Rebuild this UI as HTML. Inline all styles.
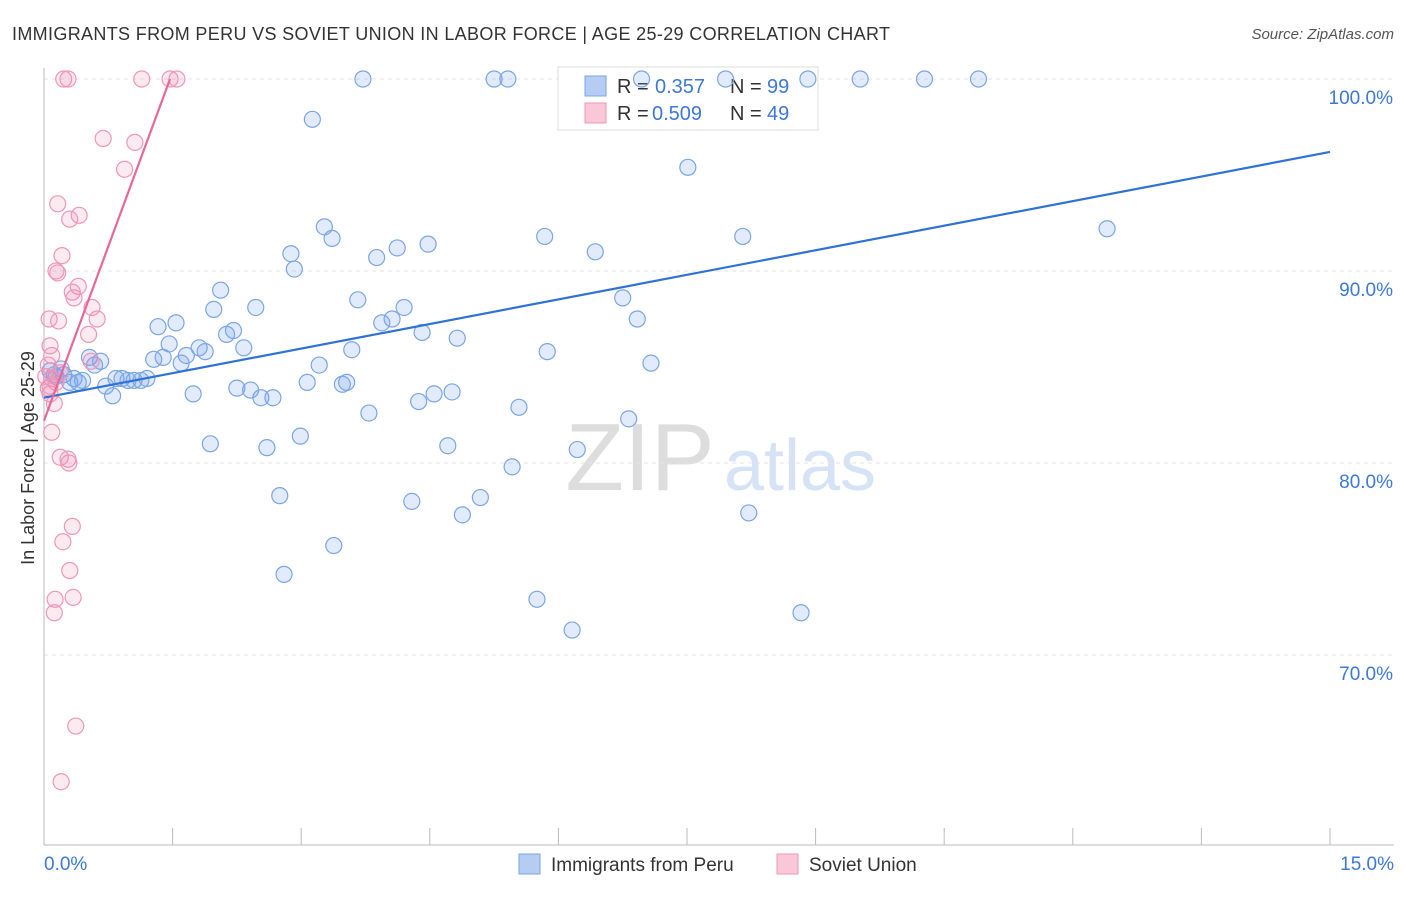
<!DOCTYPE html>
<html><head><meta charset="utf-8"><style>
body{margin:0;background:#fff;font-family:"Liberation Sans",sans-serif;}
svg text{font-family:"Liberation Sans",sans-serif;}
</style></head><body>
<svg id="chart" width="1406" height="892" xmlns="http://www.w3.org/2000/svg">
<text x="12" y="40" font-size="18" fill="#333" textLength="878">IMMIGRANTS FROM PERU VS SOVIET UNION IN LABOR FORCE | AGE 25-29 CORRELATION CHART</text>
<text x="1394" y="39" font-size="15" fill="#555" font-style="italic" text-anchor="end">Source: ZipAtlas.com</text>
<text x="640" y="490" font-size="96" fill="#ddd" font-family="Liberation Serif" text-anchor="middle">ZIP</text>
<text x="800" y="490" font-size="72" fill="#d6e2f5" text-anchor="middle">atlas</text>
<g id="grid"></g>
<g id="axes"></g>
<g>
<rect x="558" y="67" width="260" height="63" fill="#fff" stroke="#ddd"/>
<rect x="585" y="76" width="21" height="20" fill="#b5cdf3" stroke="#7aa5e6"/>
<rect x="585" y="103" width="21" height="20" fill="#f9c7d7" stroke="#ef96b7"/>
<text x="617" y="93" font-size="20" fill="#333">R = </text><text x="655" y="93" font-size="20" fill="#3b78d8">0.357</text>
<text x="730" y="93" font-size="20" fill="#333">N = </text><text x="767" y="93" font-size="20" fill="#3b78d8">99</text>
<text x="617" y="120" font-size="20" fill="#333">R = </text><text x="652" y="120" font-size="20" fill="#3b78d8">0.509</text>
<text x="730" y="120" font-size="20" fill="#333">N = </text><text x="767" y="120" font-size="20" fill="#3b78d8">49</text>
</g>
<g id="pts"></g>
<text transform="translate(34,458) rotate(-90)" font-size="18" fill="#333" text-anchor="middle">In Labor Force | Age 25-29</text>
<g>
<rect x="519" y="854" width="21" height="20" fill="#b5cdf3" stroke="#7aa5e6"/>
<text x="551" y="871" font-size="19" fill="#333">Immigrants from Peru</text>
<rect x="777" y="854" width="21" height="20" fill="#f9c7d7" stroke="#ef96b7"/>
<text x="809" y="871" font-size="19" fill="#333">Soviet Union</text>
</g>
</svg>
<script>
const yTicks=[100,90,80,70];
const xTickLabels=["0.0%","15.0%"];
const peruTrend=[83.4,96.2];
const peruX=[3.72,5.25,5.41,6.97,7.95,8.91,9.52,10.27,10.9,3.13,7.51,12.4,3.27,3.36,5.84,8.15,4.12,4.48,2.88,2.92,3.88,6.43,2.06,2.47,1.98,3.66,4.2,4.06,3.94,6.75,6.92,1.33,1.54,2.21,2.13,4.41,4.82,1.46,1.81,1.88,2.33,3.59,5.87,1.66,1.28,1.39,1.6,0.53,0.66,0.59,3.21,7.08,0.07,0.14,0.23,0.3,0.4,0.84,0.91,0.98,1.05,1.13,1.2,0.72,2.25,2.41,3.07,3.48,3.53,0.8,1.74,2.53,2.67,4.55,4.76,4.37,3.79,5.54,6.82,1.94,2.6,2.99,4.71,6.22,5.46,2.75,4.29,5.09,4.88,8.22,3.38,2.8,5.75,8.83,6.16,0.12,0.35,0.45,0.2];
const peruY=[100,100,100,100,100,100,100,100,100,97.9,95.4,92.2,92.3,91.7,91.8,91.8,91.2,91.4,90.9,90.1,90.7,91.0,89.0,88.1,88.0,88.5,88.1,87.5,87.3,88.6,87.5,87.1,87.3,86.9,86.7,86.8,86.5,86.2,86.0,85.8,86.0,85.9,85.8,85.6,85.4,85.5,85.2,85.5,85.3,85.1,85.1,85.2,84.8,84.5,84.6,84.2,84.2,84.4,84.4,84.3,84.3,84.3,84.4,84.0,83.9,83.8,84.2,84.1,84.2,83.5,83.6,83.4,83.4,83.6,83.7,83.2,82.6,82.9,82.3,81.0,80.8,81.4,80.9,80.7,79.8,78.3,78.0,78.2,77.3,77.4,75.7,74.2,72.9,72.2,71.3,84.6,84.4,84.3,84.9];
const sovX=[0.23,0.28,1.14,1.47,1.55,0.69,1.06,0.94,0.16,0.41,0.3,0.21,0.14,0.16,0.4,0.33,0.35,0.56,0.62,0.06,0.17,0.52,0.07,0.09,0.55,0.05,0.19,0.09,0.14,0.05,0.07,0.12,0.09,0.19,0.28,0.29,0.33,0.22,0.3,0.13,0.34,0.12,0.37,0.2,0.07,0.02];
const sovY=[100,100,100,100,100,96.9,96.7,95.3,93.5,92.9,92.7,90.8,90.0,89.9,89.2,88.9,88.6,88.1,87.5,87.5,87.4,86.7,86.1,85.6,85.3,85.1,84.7,84.4,84.2,83.9,83.6,83.1,81.6,80.3,80.2,80.0,76.7,75.9,74.4,72.9,73.0,72.2,66.3,63.4,84.0,84.5];
const sovTrend=[82.2,100];
const sovTrendEndX=1.47;
const NS="http://www.w3.org/2000/svg";
const X0=44,X1=1330,YTOP=79,PX10=19.2;
const sx=v=>X0+(v/15)*(X1-X0);
const sy=v=>YTOP+(100-v)*PX10;
function mk(t,a,p){const e=document.createElementNS(NS,t);for(const k in a)e.setAttribute(k,a[k]);p.appendChild(e);return e;}
const grid=document.getElementById('grid'),axes=document.getElementById('axes'),pts=document.getElementById('pts');
yTicks.forEach(v=>{
 const l=mk('line',{x1:X0,x2:1394,y1:sy(v),y2:sy(v),stroke:'#e3e3e3','stroke-dasharray':'4 4'},grid);
 
 
 const t=mk('text',{x:1393,y:sy(v)+25,'font-size':19,fill:'#3b78d8','text-anchor':'end'},axes);
 t.textContent=v.toFixed(1)+'%';
 
 
});
mk('line',{x1:X0,x2:X0,y1:68,y2:845,stroke:'#bbb'},axes);
mk('line',{x1:X0,x2:1394,y1:845,y2:845,stroke:'#bbb'},axes);
for(let i=0;i<=10;i++){mk('line',{x1:sx(i*1.5),x2:sx(i*1.5),y1:828,y2:845,stroke:'#bbb'},axes);}
const tx0=mk('text',{x:44,y:870,'font-size':19,fill:'#3b78d8'},axes);tx0.textContent=xTickLabels[0];


const tx1=mk('text',{x:1394,y:870,'font-size':19,fill:'#3b78d8','text-anchor':'end'},axes);tx1.textContent=xTickLabels[1];


function draw(xs,ys,fill,stroke,name){
 xs.forEach((x,i)=>{const c=mk('circle',{cx:sx(x),cy:sy(ys[i]),r:8,fill:fill,stroke:stroke,'stroke-width':1.2},pts);
 
 });
}
draw(peruX,peruY,'rgba(120,165,235,0.22)','#7aa5e6','peru-point');
draw(sovX,sovY,'rgba(240,140,175,0.18)','#ef96b7','soviet-point');
const l1=mk('line',{x1:sx(0),y1:sy(peruTrend[0]),x2:sx(15),y2:sy(peruTrend[1]),stroke:'#2f72d6','stroke-width':2.2},pts);


const l2=mk('line',{x1:sx(0),y1:sy(sovTrend[0]),x2:sx(sovTrendEndX),y2:sy(sovTrend[1]),stroke:'#e8679a','stroke-width':2.2},pts);


</script>
</body></html>
